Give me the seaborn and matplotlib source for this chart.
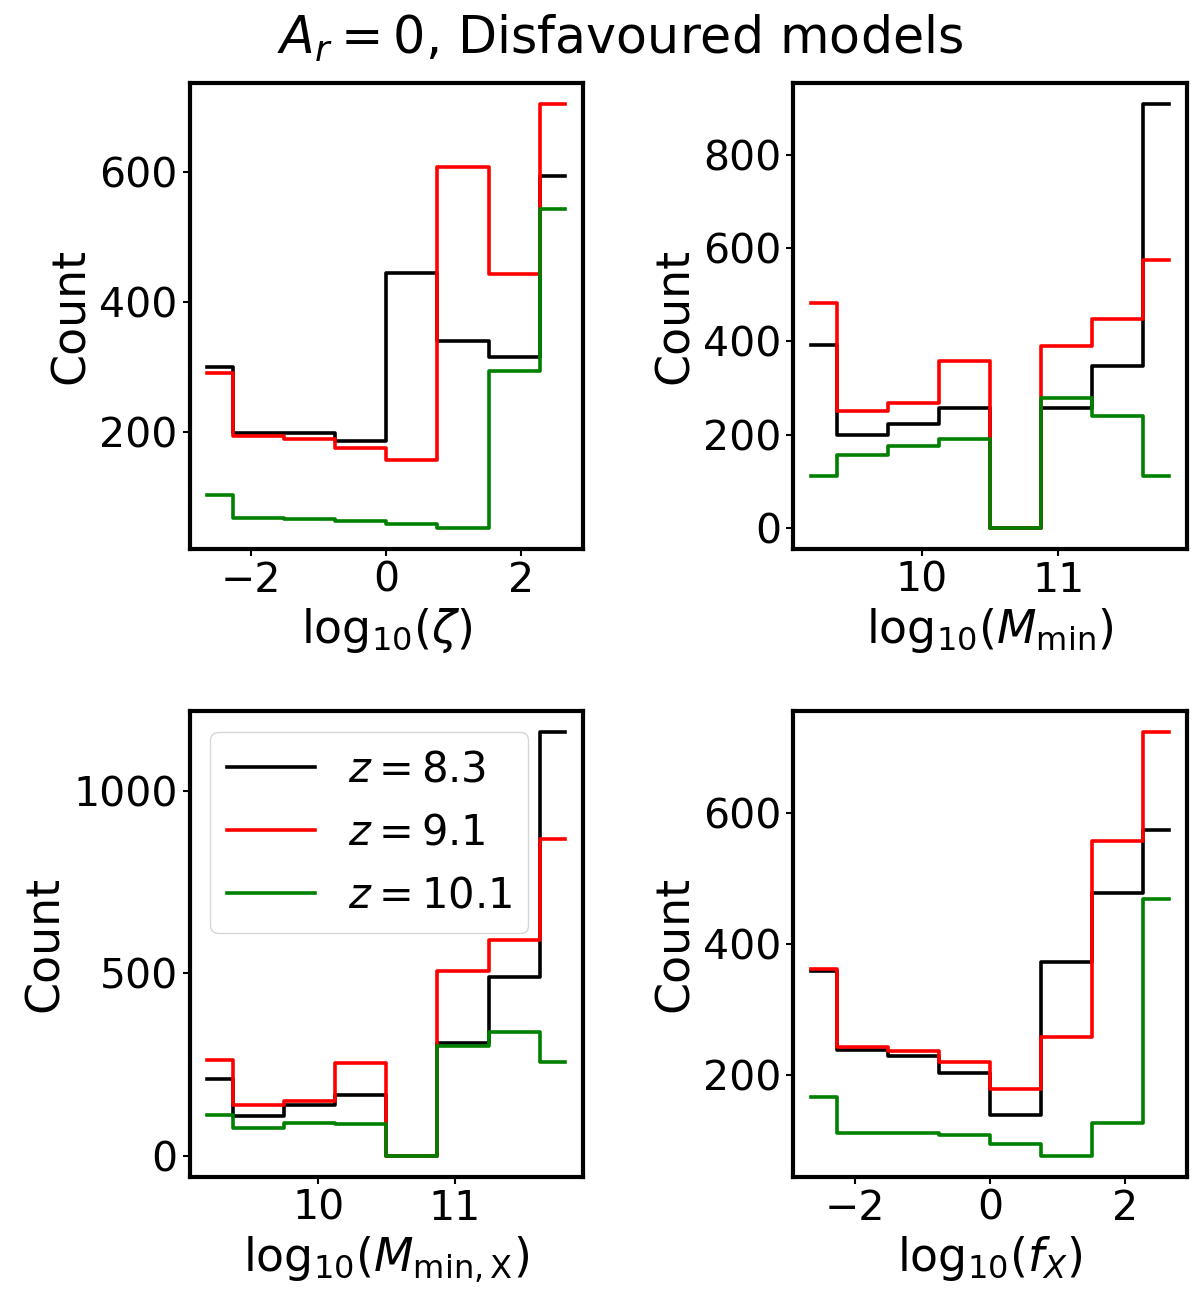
import numpy as np
import pandas as pd
import matplotlib
matplotlib.use('Agg')
import matplotlib.pyplot as plt
from matplotlib.ticker import MultipleLocator
import seaborn as sns

# centros de los bins (8 bins por parámetro)
zeta_centers = [-2.65, -1.893, -1.136, -0.379, 0.379, 1.136, 1.893, 2.65]
mmin_centers = [9.1875, 9.5625, 9.9375, 10.3125, 10.6875, 11.0625, 11.4375, 11.8125]
fx_centers = [-2.65, -1.893, -1.136, -0.379, 0.379, 1.136, 1.893, 2.65]

# cuentas, z = 8.3 / 9.1 / 10.1
zeta_z83 = [300, 199, 199, 187, 445, 340, 316, 595]
zeta_z91 = [291, 194, 190, 176, 158, 609, 444, 705]
zeta_z101 = [104, 68, 66, 63, 58, 53, 294, 544]

mmin_z83 = [392, 200, 223, 256, 0, 258, 348, 909]
mmin_z91 = [482, 251, 268, 357, 0, 391, 448, 574]
mmin_z101 = [110, 156, 176, 191, 0, 278, 239, 110]

mminx_z83 = [210, 110, 139, 167, 0, 310, 489, 1160]
mminx_z91 = [263, 139, 149, 253, 0, 507, 592, 868]
mminx_z101 = [111, 76, 90, 88, 0, 300, 340, 256]

fx_z83 = [358, 238, 229, 202, 139, 372, 478, 575]
fx_z91 = [362, 242, 237, 220, 178, 258, 557, 724]
fx_z101 = [166, 111, 111, 108, 94, 76, 126, 469]

z_labels = [r'$z = 8.3$', r'$z = 9.1$', r'$z = 10.1$']
z_colors = ['black', 'red', 'green']

panels = [
    (zeta_centers, [zeta_z83, zeta_z91, zeta_z101], r'$\mathrm{log}_{10}(\zeta)$', 2, 200),
    (mmin_centers, [mmin_z83, mmin_z91, mmin_z101], r'$\mathrm{log}_{10}(M_{\rm min})$', 1, 200),
    (mmin_centers, [mminx_z83, mminx_z91, mminx_z101], r'$\mathrm{log}_{10}(M_{\rm min,X})$', 1, 500),
    (fx_centers, [fx_z83, fx_z91, fx_z101], r'$\mathrm{log}_{10}(f_X)$', 2, 200),
]

plt.rcParams['axes.linewidth'] = 3
plt.rcParams['xtick.major.width'] = 1.5
plt.rcParams['ytick.major.width'] = 1.5
plt.rcParams['xtick.major.size'] = 5
plt.rcParams['ytick.major.size'] = 5

fig, axes = plt.subplots(2, 2, figsize=(12, 13.07), dpi=100)
fig.subplots_adjust(left=0.158, right=0.989, top=0.9365, bottom=0.0995,
                    wspace=0.534, hspace=0.348)

for ax, (centers, series, xlabel, xstep, ystep) in zip(axes.flat, panels):
    for counts, lab, col in zip(series, z_labels, z_colors):
        df = pd.DataFrame({'x': centers, 'count': counts})
        sns.lineplot(data=df, x='x', y='count', ax=ax, color=col, label=lab,
                     drawstyle='steps-mid', linewidth=2.6, legend=False)
    ax.set_xlabel(xlabel, fontsize=33)
    ax.set_ylabel('Count', fontsize=33)
    ax.xaxis.set_major_locator(MultipleLocator(xstep))
    ax.yaxis.set_major_locator(MultipleLocator(ystep))
    ax.tick_params(labelsize=29.5)

axes[1, 0].legend(loc='upper left', fontsize=30, handlelength=2.1)

fig.suptitle(r'$A_r = 0$, Disfavoured models', fontsize=36.5, x=0.517, y=0.99, va='top')

fig.savefig('out.png', dpi=100)
